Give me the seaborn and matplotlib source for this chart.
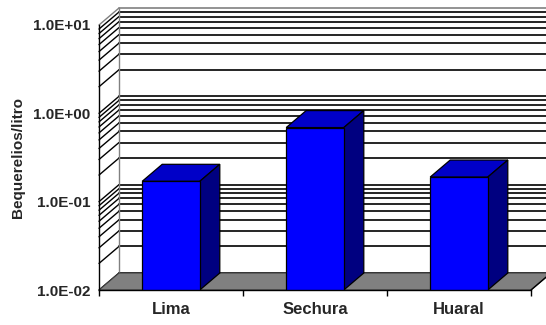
import matplotlib
matplotlib.use("Agg")
import matplotlib.pyplot as plt
import seaborn as sns
import pandas as pd
from matplotlib.patches import Polygon
from matplotlib.lines import Line2D
from matplotlib.transforms import IdentityTransform
from matplotlib.ticker import NullLocator, FixedLocator

# datos (Bq/L)
sitios = ["Lima", "Sechura", "Huaral"]
actividad = [0.17, 0.69, 0.19]
ticks_y = [1e-2, 1e-1, 1e0, 1e1]
etiquetas_y = ["1.0E-02", "1.0E-01", "1.0E+00", "1.0E+01"]

DX, DY = 20, 17  # profundidad del efecto 3D, en pixeles

sns.set_style("white")
plt.rcParams["font.family"] = ["Liberation Sans", "DejaVu Sans"]

fig = plt.figure(figsize=(5.46, 3.25), dpi=100)
ax = fig.add_axes([99 / 546, 35 / 325, 432 / 546, 265 / 325])
ax.set_facecolor("none")
ax.set_yscale("log")

df = pd.DataFrame({"sitio": sitios, "valor": actividad})
sns.barplot(data=df, x="sitio", y="valor", color="#0000ff", saturation=1,
            width=0.4, edgecolor="black", linewidth=0.9, ax=ax, zorder=6)
ax.set_ylim(1e-2, 1e1)
ax.set_xlim(-0.5, 2.5)

ident = IdentityTransform()


def px(x, y):
    return ax.transData.transform((x, y))


xl, y0 = px(-0.5, 1e-2)
xr, ytop = px(2.5, 1e1)

# pared del fondo y pared lateral: lineas de la grilla logaritmica
niveles = [m * 10.0 ** e for e in (-2, -1, 0) for m in range(1, 10)] + [10.0]
for v in niveles:
    yv = px(0, v)[1]
    col = "#808080" if v == 10.0 else "black"
    ax.add_line(Line2D([xl + DX, xr + DX + 30], [yv + DY, yv + DY], color=col,
                       lw=1.2, transform=ident, clip_on=False, zorder=1))
    ax.add_line(Line2D([xl, xl + DX], [yv, yv + DY], color=col,
                       lw=1.0, transform=ident, clip_on=False, zorder=1))
ax.add_line(Line2D([xl + DX, xl + DX], [y0 + DY, ytop + DY], color="#808080",
                   lw=1.0, transform=ident, clip_on=False, zorder=1))

# piso
piso = Polygon([(xl, y0), (xr, y0), (xr + DX, y0 + DY), (xl + DX, y0 + DY)],
               closed=True, facecolor="#808080", edgecolor="#404040", lw=0.8,
               transform=ident, clip_on=False, zorder=2)
ax.add_patch(piso)
ax.add_line(Line2D([xr, xr + DX], [y0, y0 + DY], color="black", lw=1.0,
                   transform=ident, clip_on=False, zorder=3))

# caras superior y lateral de cada barra
for p in list(ax.patches):
    if p is piso:
        continue
    x0 = p.get_x()
    w = p.get_width()
    alto = p.get_y() + p.get_height()
    a, yt = px(x0, alto)
    b = px(x0 + w, alto)[0]
    tapa = Polygon([(a, yt), (b, yt), (b + DX, yt + DY), (a + DX, yt + DY)],
                   closed=True, facecolor="#0000c8", edgecolor="black", lw=0.9,
                   transform=ident, clip_on=False, zorder=5)
    lado = Polygon([(b, y0), (b + DX, y0 + DY), (b + DX, yt + DY), (b, yt)],
                   closed=True, facecolor="#000080", edgecolor="black", lw=0.9,
                   transform=ident, clip_on=False, zorder=5)
    ax.add_patch(tapa)
    ax.add_patch(lado)

# ejes
for s in ("top", "right"):
    ax.spines[s].set_visible(False)
for s in ("left", "bottom"):
    ax.spines[s].set_color("black")
    ax.spines[s].set_linewidth(1.0)
    ax.spines[s].set_zorder(7)

ax.set_yticks(ticks_y, etiquetas_y)
ax.yaxis.set_minor_locator(NullLocator())
ax.tick_params(axis="y", which="major", direction="out", length=4, width=1,
               color="black", pad=2, labelsize=11)
for t in ax.get_yticklabels():
    t.set_fontweight("bold")

ax.xaxis.set_minor_locator(FixedLocator([-0.5, 0.5, 1.5, 2.5]))
ax.tick_params(axis="x", which="minor", direction="out", length=4, width=1,
               color="black", bottom=True)
ax.tick_params(axis="x", which="major", length=0, pad=9, labelsize=12)
for t in ax.get_xticklabels():
    t.set_fontweight("bold")

ax.set_xlabel("")
ax.set_ylabel("Bequerelios/litro", fontsize=11, fontweight="bold")
ax.yaxis.set_label_coords(-0.172, 0.5)

fig.savefig("out.png", dpi=100)
